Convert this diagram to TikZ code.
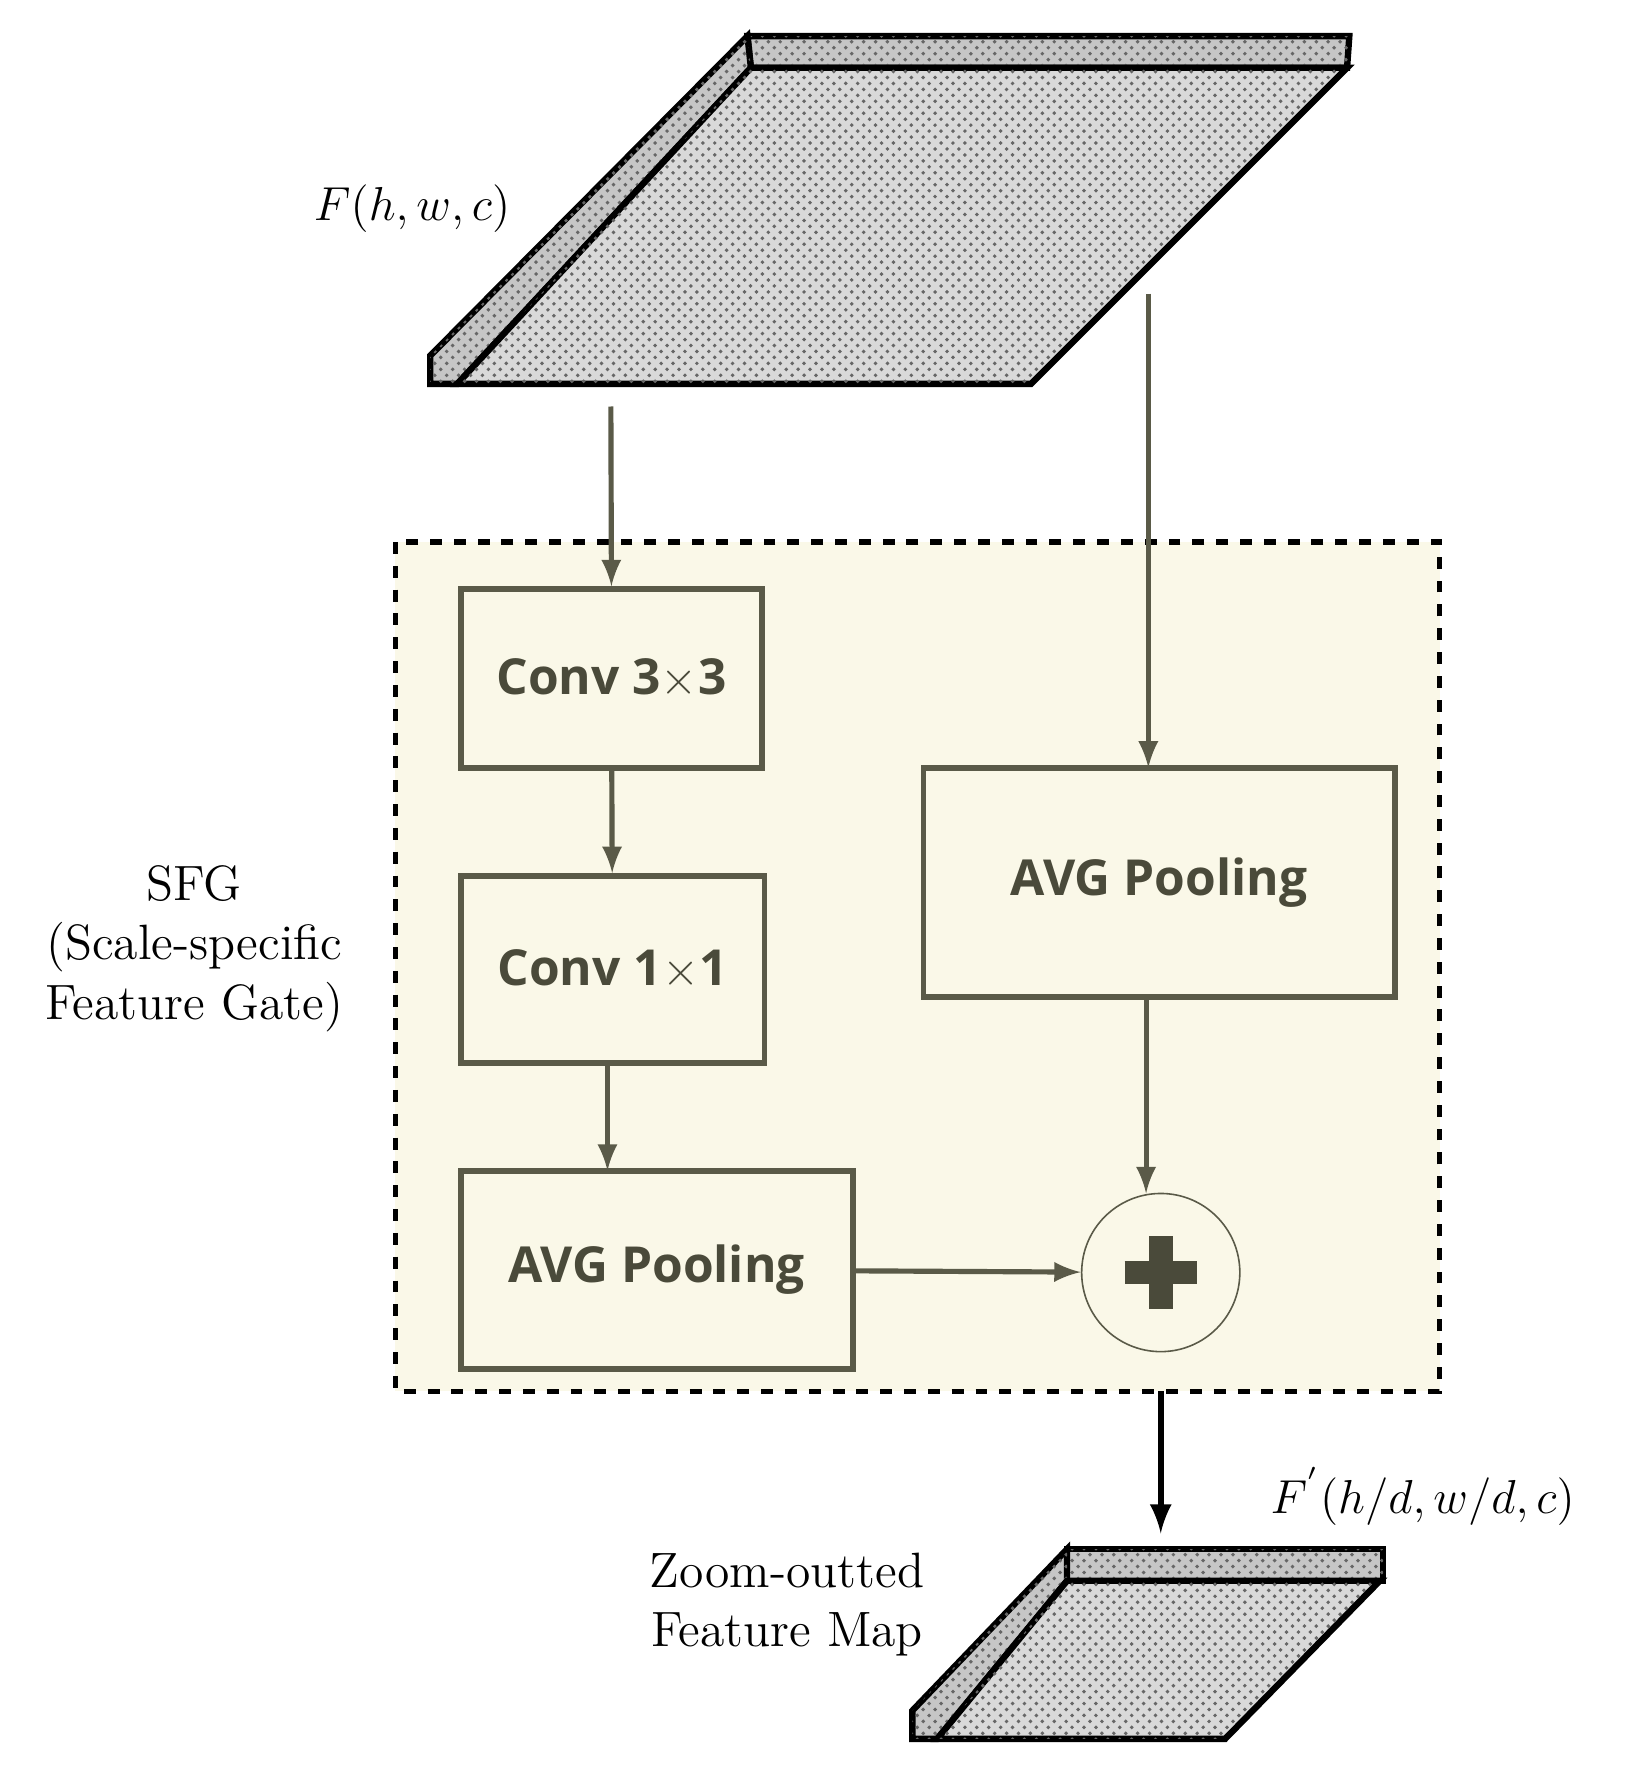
\documentclass[tikz,border=0pt]{standalone}
\usepackage{fontspec}
\newfontfamily\boxfont{Open Sans}
\usetikzlibrary{patterns}
\definecolor{boxline}{HTML}{5A5A48}
\definecolor{boxfill}{HTML}{FAF8E8}
\definecolor{boxtext}{HTML}{4A4A3A}
\begin{document}
\begin{tikzpicture}[x=0.01cm,y=-0.01cm,style=thick]
\tikzstyle{block}=[draw=boxline, fill=boxfill, line width=1.5pt, font=\boxfont\bfseries\fontsize{12.5}{14}\selectfont, text=boxtext, inner sep=0pt]
\tikzstyle{slab}=[draw=black, line width=1.6pt, fill=gray!45, postaction={pattern=crosshatch dots, pattern color=gray!80!black}]
\tikzstyle{flow}=[draw=boxline, line width=1.3pt, -latex]
\tikzstyle{label}=[font=\fontsize{12.5}{15}\selectfont, align=center]
\useasboundingbox (0,0) rectangle (1440,1572);

% input feature map
\filldraw[slab] (662,32) -- (1195,32) -- (1193,60) -- (665,60) -- cycle;
\filldraw[slab] (662,32) -- (665,60) -- (405,340) -- (381,340) -- (381,315) -- cycle;
\filldraw[slab, fill=gray!30] (665,60) -- (1193,60) -- (913,340) -- (405,340) -- cycle;
\node[label] (fin) at (365,185) {$F(h,w,c)$};

% gate
\draw[dashed, line width=1.3pt, fill=boxfill] (350,480) rectangle (1275,1232);
\node[label] (sfg) at (172,840) {SFG\\(Scale-specific\\Feature Gate)};

\node[block, minimum width=2.67cm, minimum height=1.58cm] (conv3) at (541.5,601) {Conv 3$\times$3};
\node[block, minimum width=2.69cm, minimum height=1.65cm] (conv1) at (542.5,858.5) {Conv 1$\times$1};
\node[block, minimum width=3.47cm, minimum height=1.75cm] (poolL) at (581.5,1124.5) {AVG Pooling};
\node[block, minimum width=4.17cm, minimum height=2.03cm] (poolR) at (1026.5,781.5) {AVG Pooling};
\node[draw=boxline, thin, circle, fill=boxfill, minimum size=1.4cm, inner sep=0pt] (sum) at (1028,1127) {};
\draw[boxtext, line width=6pt] (sum.center) ++(-32,0) -- ++(64,0);
\draw[boxtext, line width=6pt] (sum.center) ++(0,-32) -- ++(0,64);

\coordinate (inL) at (541,360);
\coordinate (inR) at (1017,260);
\coordinate (inRend) at (1017,680);
\coordinate (c1a) at (538,941);
\coordinate (c1b) at (538,1037);
\coordinate (prA) at (1015,883);
\coordinate (prB) at (1015,1057);
\coordinate (sumB) at (1028,1232);
\coordinate (out) at (1028,1358);
\draw[flow] (inL) -- (conv3.north);
\draw[flow] (inR) -- (inRend);
\draw[flow] (conv3) -- (conv1);
\draw[flow] (c1a) -- (c1b);
\draw[flow] (poolL) -- (sum);
\draw[flow] (prA) -- (prB);
\draw[black, line width=1.5pt, -latex] (sumB) -- (out);

% output feature map
\filldraw[slab] (945,1372) -- (1225,1372) -- (1225,1400) -- (945,1400) -- cycle;
\filldraw[slab] (945,1372) -- (945,1400) -- (830,1540) -- (808,1540) -- (808,1515) -- cycle;
\filldraw[slab, fill=gray!30] (945,1400) -- (1222,1400) -- (1085,1540) -- (830,1540) -- cycle;
\node[label] (fout) at (1260,1325) {$F^{'}(h/d,w/d,c)$};
\node[label] (zoom) at (697,1421) {Zoom-outted\\Feature Map};
\end{tikzpicture}
\end{document}
